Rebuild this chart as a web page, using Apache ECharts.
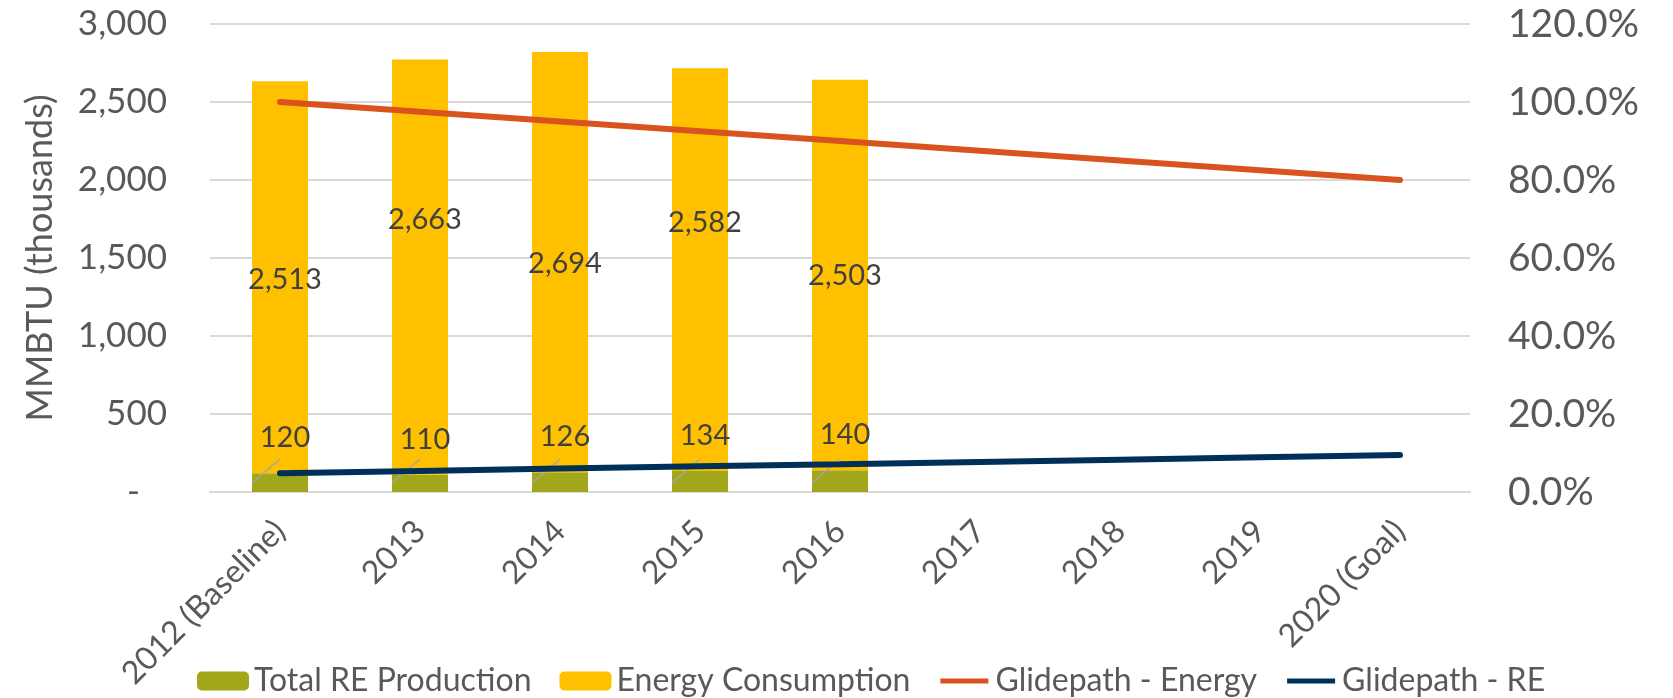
<!DOCTYPE html>
<html>
<head>
<meta charset="utf-8">
<script src="https://cdn.jsdelivr.net/npm/echarts@6/dist/echarts.min.js"></script>
<style>
  html, body { margin: 0; padding: 0; background: #fff; }
  #chart { width: 1673px; height: 698px; }
</style>
</head>
<body>
<div id="chart"></div>
<script>
const categories = ['2012 (Baseline)', '2013', '2014', '2015', '2016', '2017', '2018', '2019', '2020 (Goal)']
const reProduction = [120, 110, 126, 134, 140]
const energyConsumption = [2513, 2663, 2694, 2582, 2503]
const glidepathEnergy = [100, 97.5, 95, 92.5, 90, 87.5, 85, 82.5, 80]
const glidepathRE = [4.8, 5.4, 6.0, 6.6, 7.1, 7.7, 8.3, 8.9, 9.5]
const leftTicks = [0, 500, 1000, 1500, 2000, 2500, 3000]
const rightTicks = [0, 20, 40, 60, 80, 100, 120]

// label nudges (Excel labels were dragged)
const consumptionLabelDy = [2, -47, 1, -47, 1]

const FONT = 'Lato, "Open Sans", "Noto Sans", sans-serif'
const TXT = '#595959'
const fmt = v => Number(v).toLocaleString('en-US')
// thick line legend icon, padded so it keeps the 52x19 box
const lineIcon = 'path://M0,0 M52,19 M2,7 L50,7 L50,12 L2,12 Z'

const chart = echarts.init(document.getElementById('chart'))

chart.setOption({
  animation: false,
  textStyle: { fontFamily: FONT },
  grid: { left: 210, right: 203, top: 24, bottom: 206 },
  legend: {
    left: 192,
    top: 660,
    itemWidth: 52,
    itemHeight: 19,
    itemGap: 28,
    textStyle: { fontSize: 32, color: TXT, fontFamily: FONT },
    data: [
      { name: 'Total RE Production' },
      { name: 'Energy Consumption' },
      { name: 'Glidepath - Energy', icon: lineIcon },
      { name: 'Glidepath - RE', icon: lineIcon }
    ]
  },
  xAxis: {
    type: 'category',
    data: categories,
    axisTick: { show: false },
    axisLine: { lineStyle: { color: '#d9d9d9', width: 2 } },
    axisLabel: { rotate: 45, interval: 0, margin: 34, fontSize: 32, color: TXT, fontFamily: FONT }
  },
  yAxis: [{
    type: 'value',
    min: leftTicks[0],
    max: leftTicks[leftTicks.length - 1],
    interval: leftTicks[1] - leftTicks[0],
    name: 'MMBTU (thousands)',
    nameLocation: 'middle',
    nameGap: 152,
    nameTextStyle: { fontSize: 36, color: TXT, fontFamily: FONT },
    axisLine: { show: false },
    axisTick: { show: false },
    splitLine: { lineStyle: { color: '#d9d9d9', width: 2 } },
    axisLabel: {
      margin: 43,
      fontSize: 35,
      color: TXT,
      fontFamily: FONT,
      formatter: v => v === 0 ? '-   ' : fmt(v)
    }
  }, {
    type: 'value',
    min: rightTicks[0],
    max: rightTicks[rightTicks.length - 1],
    interval: rightTicks[1] - rightTicks[0],
    axisLine: { show: false },
    axisTick: { show: false },
    splitLine: { show: false },
    axisLabel: {
      margin: 38,
      fontSize: 39,
      color: TXT,
      fontFamily: FONT,
      formatter: v => v.toFixed(1) + '%'
    }
  }],
  series: [{
    name: 'Total RE Production',
    type: 'bar',
    stack: 'energy',
    barWidth: 56,
    itemStyle: { color: '#a2a61b' },
    data: reProduction,
    label: {
      show: true,
      position: 'top',
      offset: [5, -16],
      fontSize: 29,
      color: '#404040',
      fontFamily: FONT,
      formatter: p => fmt(p.value)
    }
  }, {
    name: 'Energy Consumption',
    type: 'bar',
    stack: 'energy',
    barWidth: 56,
    itemStyle: { color: '#ffc000' },
    data: energyConsumption.map((v, i) => ({
      value: v,
      label: { offset: [5, consumptionLabelDy[i]] }
    })),
    label: {
      show: true,
      position: 'inside',
      fontSize: 29,
      color: '#404040',
      fontFamily: FONT,
      formatter: p => fmt(p.value)
    }
  }, {
    // leader lines from the RE bars up to their dragged labels
    name: 'RE leader',
    type: 'custom',
    silent: true,
    z: 5,
    data: reProduction.map((v, i) => [i, v]),
    renderItem: (params, api) => {
      const base = api.coord([api.value(0), 0])
      const half = api.size([1, 0])[0] * 0.2
      return {
        type: 'line',
        shape: { x1: base[0] - half, y1: base[1] - 9, x2: base[0], y2: base[1] - 33 },
        style: { stroke: '#a6a6a6', lineWidth: 1.5 }
      }
    }
  }, {
    name: 'Glidepath - Energy',
    type: 'line',
    yAxisIndex: 1,
    symbol: 'none',
    z: 6,
    data: glidepathEnergy,
    itemStyle: { color: '#d9531e' },
    lineStyle: { color: '#d9531e', width: 6, cap: 'round' }
  }, {
    name: 'Glidepath - RE',
    type: 'line',
    yAxisIndex: 1,
    symbol: 'none',
    z: 6,
    data: glidepathRE,
    itemStyle: { color: '#003057' },
    lineStyle: { color: '#003057', width: 6, cap: 'round' }
  }]
})

window.addEventListener('resize', () => {
  chart.resize()
})
</script>
</body>
</html>
